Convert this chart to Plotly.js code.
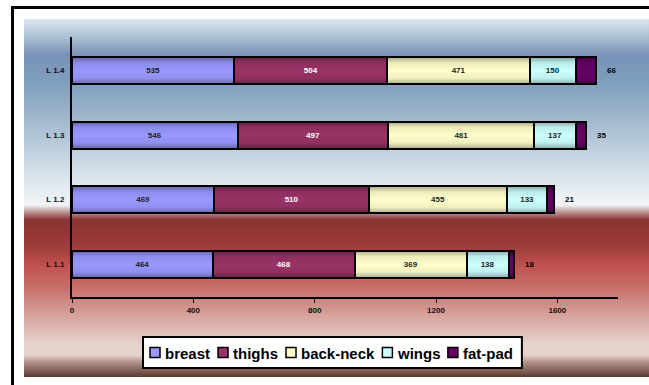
<!DOCTYPE html>
<html>
<head>
<meta charset="utf-8">
<script src="https://cdn.plot.ly/plotly-3.0.1.min.js"></script>
<style>
  html, body { margin: 0; padding: 0; width: 649px; height: 385px; overflow: hidden; background: #ffffff; }
  #frame { position: absolute; left: 11px; top: 6px; width: 700px; height: 400px;
           border-left: 3px solid #000; border-top: 3px solid #000; }
  #backdrop { position: absolute; left: 24px; top: 19px; width: 625px; height: 358px;
    background: linear-gradient(to bottom,
      #dce6ef 0%, #a2b9ce 5.9%, #7a92b8 10%, #7d9dbc 17%, #98b2c8 25.4%,
      #b5c8d8 33.8%, #d4dfe8 42.2%, #eef2f6 50.6%, #f2f2f5 52%, #c4a4a4 53.6%,
      #8b3333 56.1%, #9a3c3a 63%, #c0504d 68.7%, #c8736e 75.7%, #d9aaa4 84%,
      #e8d4ce 91%, #e4d3cc 93.9%, #b39389 95.8%, #86655b 98%, #5c3830 100%); }
  #chart { position: absolute; left: 0; top: 0; width: 649px; height: 385px; }
</style>
</head>
<body>
<div id="frame"></div>
<div id="backdrop"></div>
<div id="chart"></div>
<script>
// Carcass part weights per line
const lines    = ['L 1.1', 'L 1.2', 'L 1.3', 'L 1.4'];
const breast   = [464, 469, 546, 535];
const thighs   = [468, 510, 497, 504];
const backNeck = [369, 455, 481, 471];
const wings    = [138, 133, 137, 150];
const fatPad   = [18, 21, 35, 66];

const seriesNames  = ['breast', 'thighs', 'back-neck', 'wings', 'fat-pad'];
const seriesValues = [breast, thighs, backNeck, wings, fatPad];
const seriesColors = ['#9999ff', '#993366', '#ffffcc', '#ccffff', '#660066'];
const labelColors  = ['#1c1c1c', '#ffffff', '#1c1c1c', '#1c1c1c', '#000000'];

const xTicks = [0, 400, 800, 1200, 1600];

const FONT = '"Liberation Sans", Arial, sans-serif';

// Plot box in pixels
const W = 649, H = 385;
const M = { l: 72, r: 31, t: 37, b: 88 };
const plotW = W - M.l - M.r, plotH = H - M.t - M.b;
const px2x = p => (p - M.l) / plotW;
const py2y = p => (H - M.b - p) / plotH;

const traces = seriesNames.map((name, i) => ({
  type: 'bar',
  orientation: 'h',
  name: name,
  y: lines,
  x: seriesValues[i],
  text: i < seriesNames.length - 1 ? seriesValues[i].map(String) : undefined,
  textposition: i < seriesNames.length - 1 ? 'inside' : 'none',
  insidetextanchor: 'middle',
  textangle: 0,
  constraintext: 'none',
  textfont: { family: FONT, size: 8, weight: 'bold', color: labelColors[i] },
  marker: { color: seriesColors[i], line: { color: '#000000', width: 2 } },
  hoverinfo: 'skip',
  showlegend: false
}));

// fat-pad values sit just past the end of each stack
const totals = lines.map((_, k) => seriesValues.reduce((s, arr) => s + arr[k], 0));
const annotations = lines.map((cat, k) => ({
  x: totals[k], y: cat, xref: 'x', yref: 'y',
  text: String(fatPad[k]), showarrow: false,
  xanchor: 'left', yanchor: 'middle', xshift: 9,
  font: { family: FONT, size: 8, weight: 'bold', color: '#000000' }
}));

// Legend row: swatch + label, laid out from measured text widths
const shapes = [];
const ctx = document.createElement('canvas').getContext('2d');
ctx.font = 'bold 15px "Liberation Sans", Arial, sans-serif';
const legTop = 337, legBottom = 368, legLeft = 143;
const legMid = (legTop + legBottom) / 2;
let cx = legLeft + 7;
seriesNames.forEach((name, i) => {
  shapes.push({
    type: 'rect', xref: 'paper', yref: 'paper', layer: 'above',
    x0: px2x(cx), x1: px2x(cx + 10), y0: py2y(legMid - 5), y1: py2y(legMid + 5),
    fillcolor: seriesColors[i], line: { color: '#000000', width: 1.5 }
  });
  annotations.push({
    x: px2x(cx + 13), y: py2y(legMid + 0.5), xref: 'paper', yref: 'paper',
    text: name, showarrow: false, xanchor: 'left', yanchor: 'middle',
    font: { family: FONT, size: 15, weight: 'bold', color: '#000000' }
  });
  cx += 13 + ctx.measureText(name).width + 10;
});
const legRight = cx + 1;
shapes.unshift({
  type: 'rect', xref: 'paper', yref: 'paper', layer: 'above',
  x0: px2x(legLeft), x1: px2x(legRight), y0: py2y(legBottom), y1: py2y(legTop),
  fillcolor: '#ffffff', line: { color: '#000000', width: 2 }
});

const layout = {
  width: W, height: H,
  margin: M,
  paper_bgcolor: 'rgba(0,0,0,0)',
  plot_bgcolor: 'rgba(0,0,0,0)',
  barmode: 'stack',
  bargap: 0.58,
  showlegend: false,
  font: { family: FONT, color: '#000000' },
  xaxis: {
    range: [0, 1800],
    tickvals: xTicks,
    ticktext: xTicks.map(String),
    ticks: 'outside', ticklen: 4, tickwidth: 1, tickcolor: '#000000',
    showline: true, linecolor: '#000000', linewidth: 2,
    showgrid: false, zeroline: false,
    tickfont: { family: FONT, size: 8, weight: 'bold', color: '#111111' }
  },
  yaxis: {
    type: 'category',
    categoryorder: 'array', categoryarray: lines,
    range: [-0.51, 3.52],
    showline: true, linecolor: '#000000', linewidth: 2,
    showgrid: false, zeroline: false, ticks: '',
    ticklabelstandoff: 4,
    tickfont: { family: FONT, size: 8, weight: 'bold', color: '#111111' }
  },
  shapes: shapes,
  annotations: annotations
};

// Vertical shading on the bar fills (darker rims, lighter centre)
function shade(hex, f) {
  const n = parseInt(hex.slice(1), 16);
  const c = [(n >> 16) & 255, (n >> 8) & 255, n & 255].map(v => Math.max(0, Math.min(255, Math.round(v * f))));
  return 'rgb(' + c.join(',') + ')';
}

Plotly.newPlot('chart', traces, layout, { staticPlot: true }).then(gd => {
  const NS = 'http://www.w3.org/2000/svg';
  const svg = gd.querySelector('svg.main-svg');
  let defs = svg.querySelector('defs');
  if (!defs) { defs = document.createElementNS(NS, 'defs'); svg.insertBefore(defs, svg.firstChild); }
  seriesColors.forEach((col, i) => {
    const g = document.createElementNS(NS, 'linearGradient');
    g.setAttribute('id', 'barShade' + i);
    g.setAttribute('x1', '0'); g.setAttribute('y1', '0');
    g.setAttribute('x2', '0'); g.setAttribute('y2', '1');
    [[0, 0.65], [0.22, 0.92], [0.5, 1.0], [0.78, 0.94], [1, 0.68]].forEach(([o, f]) => {
      const s = document.createElementNS(NS, 'stop');
      s.setAttribute('offset', o);
      s.setAttribute('stop-color', shade(col, f));
      g.appendChild(s);
    });
    defs.appendChild(g);
  });
  gd.querySelectorAll('.barlayer .trace').forEach((tr, i) => {
    tr.querySelectorAll('.point path').forEach(p => { p.style.fill = 'url(#barShade' + i + ')'; });
  });
});
</script>
</body>
</html>
